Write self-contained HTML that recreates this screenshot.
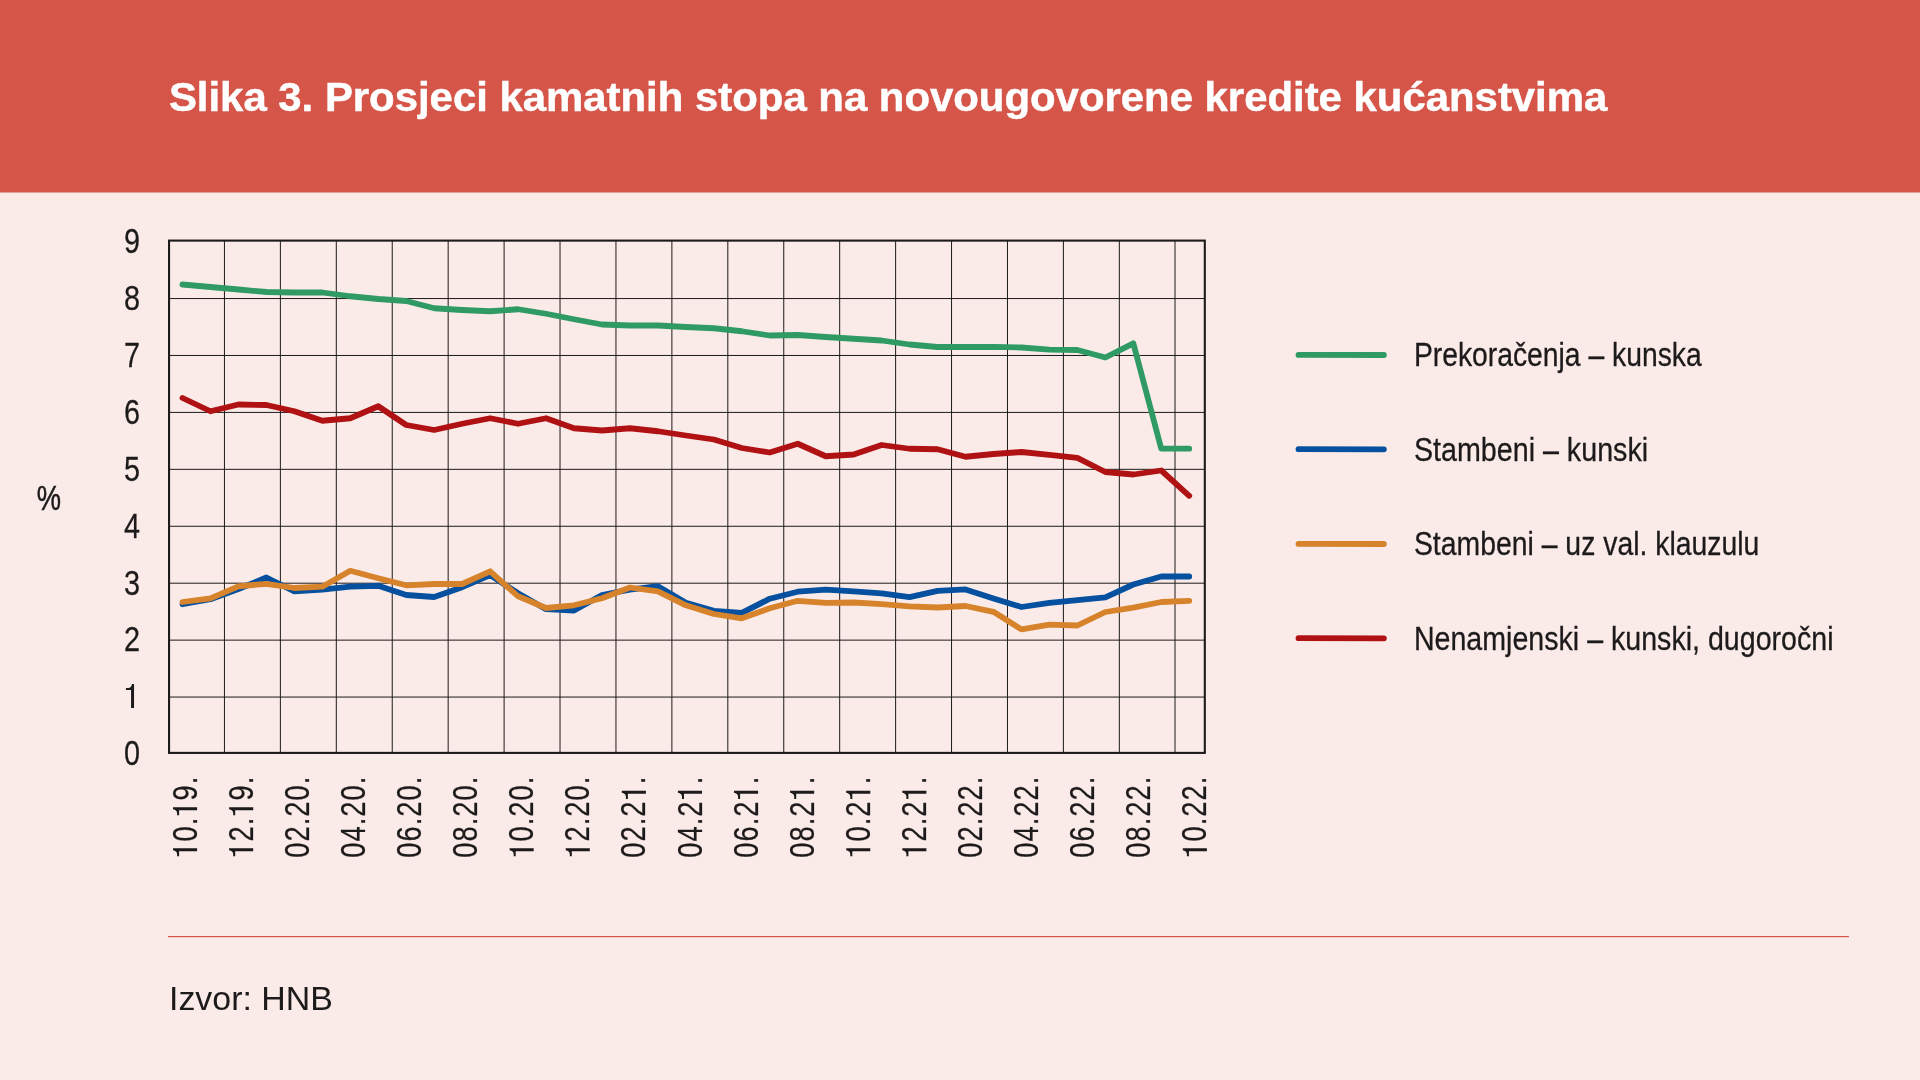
<!DOCTYPE html>
<html lang="hr"><head><meta charset="utf-8"><title>Slika 3. Prosjeci kamatnih stopa na novougovorene kredite kućanstvima</title>
<style>html,body{margin:0;padding:0;background:#faebe8;}body{width:1920px;height:1080px;overflow:hidden;font-family:"Liberation Sans",sans-serif;}svg{display:block;will-change:transform;}text{font-family:"Liberation Sans",sans-serif;}</style></head><body>
<svg width="1920" height="1080" viewBox="0 0 1920 1080">
<rect x="0" y="0" width="1920" height="1080" fill="#faebe8"/>
<rect x="0" y="0" width="1920" height="192.5" fill="#d55549"/>
 <text x="168.9" y="110.7" font-size="41" font-weight="bold" fill="#ffffff" stroke="#ffffff" stroke-width="0.5" textLength="1438.4" lengthAdjust="spacingAndGlyphs">Slika 3. Prosjeci kamatnih stopa na novougovorene kredite kućanstvima</text>
<g stroke="#1d1a1b" stroke-width="1" fill="none">
<line x1="224.45" y1="240.6" x2="224.45" y2="752.9"/>
<line x1="280.38" y1="240.6" x2="280.38" y2="752.9"/>
<line x1="336.31" y1="240.6" x2="336.31" y2="752.9"/>
<line x1="392.24" y1="240.6" x2="392.24" y2="752.9"/>
<line x1="448.17" y1="240.6" x2="448.17" y2="752.9"/>
<line x1="504.10" y1="240.6" x2="504.10" y2="752.9"/>
<line x1="560.03" y1="240.6" x2="560.03" y2="752.9"/>
<line x1="615.96" y1="240.6" x2="615.96" y2="752.9"/>
<line x1="671.89" y1="240.6" x2="671.89" y2="752.9"/>
<line x1="727.82" y1="240.6" x2="727.82" y2="752.9"/>
<line x1="783.75" y1="240.6" x2="783.75" y2="752.9"/>
<line x1="839.68" y1="240.6" x2="839.68" y2="752.9"/>
<line x1="895.61" y1="240.6" x2="895.61" y2="752.9"/>
<line x1="951.54" y1="240.6" x2="951.54" y2="752.9"/>
<line x1="1007.47" y1="240.6" x2="1007.47" y2="752.9"/>
<line x1="1063.40" y1="240.6" x2="1063.40" y2="752.9"/>
<line x1="1119.33" y1="240.6" x2="1119.33" y2="752.9"/>
<line x1="1175.00" y1="240.6" x2="1175.00" y2="752.9"/>
<line x1="169.05" y1="298.55" x2="1204.8" y2="298.55"/>
<line x1="169.05" y1="355.48" x2="1204.8" y2="355.48"/>
<line x1="169.05" y1="412.41" x2="1204.8" y2="412.41"/>
<line x1="169.05" y1="469.34" x2="1204.8" y2="469.34"/>
<line x1="169.05" y1="526.27" x2="1204.8" y2="526.27"/>
<line x1="169.05" y1="583.20" x2="1204.8" y2="583.20"/>
<line x1="169.05" y1="640.13" x2="1204.8" y2="640.13"/>
<line x1="169.05" y1="697.06" x2="1204.8" y2="697.06"/>
</g>
<rect x="169.05" y="240.6" width="1035.75" height="512.3" fill="none" stroke="#1d1a1b" stroke-width="2.1"/>
<polyline points="182.50,284.50 210.47,287.00 238.43,289.50 266.39,292.00 294.36,292.50 322.32,292.50 350.29,296.25 378.25,299.00 406.22,301.00 434.19,308.25 462.15,310.00 490.12,311.25 518.08,309.25 546.05,313.75 574.01,319.25 601.98,324.50 629.94,325.50 657.90,325.50 685.87,327.00 713.84,328.25 741.80,331.25 769.76,335.50 797.73,335.00 825.70,337.00 853.66,338.75 881.62,340.50 909.59,344.50 937.55,347.00 965.52,347.00 993.49,346.80 1021.45,347.50 1049.41,349.60 1077.38,350.00 1105.35,357.50 1133.31,343.30 1161.28,448.70 1189.24,448.70" fill="none" stroke="#2f9a63" stroke-width="5.8" stroke-linecap="round" stroke-linejoin="round"/>
<polyline points="182.50,604.20 210.47,599.20 238.43,589.00 266.39,577.50 294.36,591.30 322.32,589.70 350.29,586.70 378.25,585.80 406.22,595.00 434.19,597.00 462.15,587.20 490.12,575.00 518.08,593.30 546.05,609.20 574.01,610.50 601.98,595.00 629.94,589.70 657.90,586.20 685.87,602.80 713.84,610.80 741.80,612.90 769.76,598.70 797.73,591.70 825.70,589.70 853.66,591.30 881.62,593.30 909.59,597.20 937.55,590.80 965.52,589.40 993.49,598.50 1021.45,607.00 1049.41,602.80 1077.38,600.20 1105.35,597.30 1133.31,584.50 1161.28,576.50 1189.24,576.50" fill="none" stroke="#05509f" stroke-width="5.8" stroke-linecap="round" stroke-linejoin="round"/>
<polyline points="182.50,602.00 210.47,598.30 238.43,586.30 266.39,583.80 294.36,588.00 322.32,586.70 350.29,570.80 378.25,578.30 406.22,585.30 434.19,584.00 462.15,584.00 490.12,571.30 518.08,596.30 546.05,608.00 574.01,605.30 601.98,598.30 629.94,587.50 657.90,591.30 685.87,605.30 713.84,614.00 741.80,618.30 769.76,608.30 797.73,600.80 825.70,602.80 853.66,602.50 881.62,604.20 909.59,606.30 937.55,607.50 965.52,606.00 993.49,611.80 1021.45,629.40 1049.41,624.70 1077.38,625.50 1105.35,612.00 1133.31,607.70 1161.28,602.00 1189.24,600.80" fill="none" stroke="#d6832c" stroke-width="5.8" stroke-linecap="round" stroke-linejoin="round"/>
<polyline points="182.50,398.00 210.47,411.25 238.43,404.50 266.39,405.00 294.36,411.25 322.32,420.75 350.29,418.25 378.25,406.25 406.22,425.00 434.19,430.00 462.15,423.75 490.12,418.25 518.08,423.75 546.05,418.25 574.01,428.25 601.98,430.50 629.94,428.25 657.90,431.25 685.87,435.50 713.84,439.50 741.80,448.00 769.76,452.50 797.73,443.75 825.70,456.25 853.66,454.50 881.62,445.00 909.59,448.75 937.55,449.25 965.52,456.75 993.49,454.00 1021.45,452.00 1049.41,454.80 1077.38,457.80 1105.35,472.00 1133.31,474.50 1161.28,470.50 1189.24,495.80" fill="none" stroke="#b01113" stroke-width="5.8" stroke-linecap="round" stroke-linejoin="round"/>
<text transform="translate(140.0,764.99) scale(0.82,1)" font-size="35.2" text-anchor="end" fill="#1d1a1b" stroke="#1d1a1b" stroke-width="0.25">0</text>
<path transform="translate(124.2,708.0)" d="M6.85 0V-18H1.7V-20H4.1Q7.1 -20.4 7.8 -24.1H9.85V0Z" fill="#1d1a1b"/>
<text transform="translate(140.0,651.41) scale(0.82,1)" font-size="35.2" text-anchor="end" fill="#1d1a1b" stroke="#1d1a1b" stroke-width="0.25">2</text>
<text transform="translate(140.0,594.62) scale(0.82,1)" font-size="35.2" text-anchor="end" fill="#1d1a1b" stroke="#1d1a1b" stroke-width="0.25">3</text>
<text transform="translate(140.0,537.83) scale(0.82,1)" font-size="35.2" text-anchor="end" fill="#1d1a1b" stroke="#1d1a1b" stroke-width="0.25">4</text>
<text transform="translate(140.0,481.04) scale(0.82,1)" font-size="35.2" text-anchor="end" fill="#1d1a1b" stroke="#1d1a1b" stroke-width="0.25">5</text>
<text transform="translate(140.0,424.11) scale(0.82,1)" font-size="35.2" text-anchor="end" fill="#1d1a1b" stroke="#1d1a1b" stroke-width="0.25">6</text>
<text transform="translate(140.0,367.18) scale(0.82,1)" font-size="35.2" text-anchor="end" fill="#1d1a1b" stroke="#1d1a1b" stroke-width="0.25">7</text>
<text transform="translate(140.0,310.25) scale(0.82,1)" font-size="35.2" text-anchor="end" fill="#1d1a1b" stroke="#1d1a1b" stroke-width="0.25">8</text>
<text transform="translate(140.0,253.32) scale(0.82,1)" font-size="35.2" text-anchor="end" fill="#1d1a1b" stroke="#1d1a1b" stroke-width="0.25">9</text>
<text transform="translate(36.7,510.1) scale(0.769,1)" font-size="35.5" fill="#1d1a1b" stroke="#1d1a1b" stroke-width="0.5">%</text>
<path transform="translate(197.10,858.0) rotate(-90) translate(0,0)" d="M6.85 0V-18H1.7V-20H4.1Q7.1 -20.4 7.8 -24.1H9.85V0Z" fill="#1d1a1b"/>
<path transform="translate(197.10,858.0) rotate(-90) translate(41.0,0)" d="M6.85 0V-18H1.7V-20H4.1Q7.1 -20.4 7.8 -24.1H9.85V0Z" fill="#1d1a1b"/>
<text transform="translate(196.65,858.0) rotate(-90) scale(0.795,1)" x="20.88 41.13 72.45 92.70" font-size="34.4" fill="#1d1a1b" stroke="#1d1a1b" stroke-width="0.25">0.9.</text>
<path transform="translate(253.20,858.0) rotate(-90) translate(0,0)" d="M6.85 0V-18H1.7V-20H4.1Q7.1 -20.4 7.8 -24.1H9.85V0Z" fill="#1d1a1b"/>
<path transform="translate(253.20,858.0) rotate(-90) translate(41.0,0)" d="M6.85 0V-18H1.7V-20H4.1Q7.1 -20.4 7.8 -24.1H9.85V0Z" fill="#1d1a1b"/>
<text transform="translate(252.75,858.0) rotate(-90) scale(0.795,1)" x="20.88 41.13 72.45 92.70" font-size="34.4" fill="#1d1a1b" stroke="#1d1a1b" stroke-width="0.25">2.9.</text>
<text transform="translate(308.85,858.0) rotate(-90) scale(0.795,1)" x="0.25 20.88 41.13 51.82 72.45 92.70" font-size="34.4" fill="#1d1a1b" stroke="#1d1a1b" stroke-width="0.25">02.20.</text>
<text transform="translate(364.95,858.0) rotate(-90) scale(0.795,1)" x="0.25 20.88 41.13 51.82 72.45 92.70" font-size="34.4" fill="#1d1a1b" stroke="#1d1a1b" stroke-width="0.25">04.20.</text>
<text transform="translate(421.05,858.0) rotate(-90) scale(0.795,1)" x="0.25 20.88 41.13 51.82 72.45 92.70" font-size="34.4" fill="#1d1a1b" stroke="#1d1a1b" stroke-width="0.25">06.20.</text>
<text transform="translate(477.15,858.0) rotate(-90) scale(0.795,1)" x="0.25 20.88 41.13 51.82 72.45 92.70" font-size="34.4" fill="#1d1a1b" stroke="#1d1a1b" stroke-width="0.25">08.20.</text>
<path transform="translate(533.70,858.0) rotate(-90) translate(0,0)" d="M6.85 0V-18H1.7V-20H4.1Q7.1 -20.4 7.8 -24.1H9.85V0Z" fill="#1d1a1b"/>
<text transform="translate(533.25,858.0) rotate(-90) scale(0.795,1)" x="20.88 41.13 51.82 72.45 92.70" font-size="34.4" fill="#1d1a1b" stroke="#1d1a1b" stroke-width="0.25">0.20.</text>
<path transform="translate(589.80,858.0) rotate(-90) translate(0,0)" d="M6.85 0V-18H1.7V-20H4.1Q7.1 -20.4 7.8 -24.1H9.85V0Z" fill="#1d1a1b"/>
<text transform="translate(589.35,858.0) rotate(-90) scale(0.795,1)" x="20.88 41.13 51.82 72.45 92.70" font-size="34.4" fill="#1d1a1b" stroke="#1d1a1b" stroke-width="0.25">2.20.</text>
<path transform="translate(645.90,858.0) rotate(-90) translate(57.4,0)" d="M6.85 0V-18H1.7V-20H4.1Q7.1 -20.4 7.8 -24.1H9.85V0Z" fill="#1d1a1b"/>
<text transform="translate(645.45,858.0) rotate(-90) scale(0.795,1)" x="0.25 20.88 41.13 51.82 92.70" font-size="34.4" fill="#1d1a1b" stroke="#1d1a1b" stroke-width="0.25">02.2.</text>
<path transform="translate(702.00,858.0) rotate(-90) translate(57.4,0)" d="M6.85 0V-18H1.7V-20H4.1Q7.1 -20.4 7.8 -24.1H9.85V0Z" fill="#1d1a1b"/>
<text transform="translate(701.55,858.0) rotate(-90) scale(0.795,1)" x="0.25 20.88 41.13 51.82 92.70" font-size="34.4" fill="#1d1a1b" stroke="#1d1a1b" stroke-width="0.25">04.2.</text>
<path transform="translate(758.10,858.0) rotate(-90) translate(57.4,0)" d="M6.85 0V-18H1.7V-20H4.1Q7.1 -20.4 7.8 -24.1H9.85V0Z" fill="#1d1a1b"/>
<text transform="translate(757.65,858.0) rotate(-90) scale(0.795,1)" x="0.25 20.88 41.13 51.82 92.70" font-size="34.4" fill="#1d1a1b" stroke="#1d1a1b" stroke-width="0.25">06.2.</text>
<path transform="translate(814.20,858.0) rotate(-90) translate(57.4,0)" d="M6.85 0V-18H1.7V-20H4.1Q7.1 -20.4 7.8 -24.1H9.85V0Z" fill="#1d1a1b"/>
<text transform="translate(813.75,858.0) rotate(-90) scale(0.795,1)" x="0.25 20.88 41.13 51.82 92.70" font-size="34.4" fill="#1d1a1b" stroke="#1d1a1b" stroke-width="0.25">08.2.</text>
<path transform="translate(870.30,858.0) rotate(-90) translate(0,0)" d="M6.85 0V-18H1.7V-20H4.1Q7.1 -20.4 7.8 -24.1H9.85V0Z" fill="#1d1a1b"/>
<path transform="translate(870.30,858.0) rotate(-90) translate(57.4,0)" d="M6.85 0V-18H1.7V-20H4.1Q7.1 -20.4 7.8 -24.1H9.85V0Z" fill="#1d1a1b"/>
<text transform="translate(869.85,858.0) rotate(-90) scale(0.795,1)" x="20.88 41.13 51.82 92.70" font-size="34.4" fill="#1d1a1b" stroke="#1d1a1b" stroke-width="0.25">0.2.</text>
<path transform="translate(926.40,858.0) rotate(-90) translate(0,0)" d="M6.85 0V-18H1.7V-20H4.1Q7.1 -20.4 7.8 -24.1H9.85V0Z" fill="#1d1a1b"/>
<path transform="translate(926.40,858.0) rotate(-90) translate(57.4,0)" d="M6.85 0V-18H1.7V-20H4.1Q7.1 -20.4 7.8 -24.1H9.85V0Z" fill="#1d1a1b"/>
<text transform="translate(925.95,858.0) rotate(-90) scale(0.795,1)" x="20.88 41.13 51.82 92.70" font-size="34.4" fill="#1d1a1b" stroke="#1d1a1b" stroke-width="0.25">2.2.</text>
<text transform="translate(982.05,858.0) rotate(-90) scale(0.795,1)" x="0.25 20.88 41.13 51.82 72.45 92.70" font-size="34.4" fill="#1d1a1b" stroke="#1d1a1b" stroke-width="0.25">02.22.</text>
<text transform="translate(1038.15,858.0) rotate(-90) scale(0.795,1)" x="0.25 20.88 41.13 51.82 72.45 92.70" font-size="34.4" fill="#1d1a1b" stroke="#1d1a1b" stroke-width="0.25">04.22.</text>
<text transform="translate(1094.25,858.0) rotate(-90) scale(0.795,1)" x="0.25 20.88 41.13 51.82 72.45 92.70" font-size="34.4" fill="#1d1a1b" stroke="#1d1a1b" stroke-width="0.25">06.22.</text>
<text transform="translate(1150.35,858.0) rotate(-90) scale(0.795,1)" x="0.25 20.88 41.13 51.82 72.45 92.70" font-size="34.4" fill="#1d1a1b" stroke="#1d1a1b" stroke-width="0.25">08.22.</text>
<path transform="translate(1206.90,858.0) rotate(-90) translate(0,0)" d="M6.85 0V-18H1.7V-20H4.1Q7.1 -20.4 7.8 -24.1H9.85V0Z" fill="#1d1a1b"/>
<text transform="translate(1206.45,858.0) rotate(-90) scale(0.795,1)" x="20.88 41.13 51.82 72.45 92.70" font-size="34.4" fill="#1d1a1b" stroke="#1d1a1b" stroke-width="0.25">0.22.</text>
<line x1="1298.5" y1="354.9" x2="1383.9" y2="355" stroke="#2f9a63" stroke-width="5.8" stroke-linecap="round"/>
<text transform="translate(1413.9,365.80) scale(0.8325,1)" font-size="34" fill="#1d1a1b" stroke="#1d1a1b" stroke-width="0.3">Prekoračenja – kunska</text>
<line x1="1298.5" y1="449.2" x2="1383.9" y2="449.3" stroke="#05509f" stroke-width="5.8" stroke-linecap="round"/>
<text transform="translate(1413.9,460.53) scale(0.8435,1)" font-size="34" fill="#1d1a1b" stroke="#1d1a1b" stroke-width="0.3">Stambeni – kunski</text>
<line x1="1298.5" y1="543.9" x2="1383.9" y2="544" stroke="#d6832c" stroke-width="5.8" stroke-linecap="round"/>
<text transform="translate(1413.9,555.26) scale(0.835,1)" font-size="34" fill="#1d1a1b" stroke="#1d1a1b" stroke-width="0.3">Stambeni – uz val. klauzulu</text>
<line x1="1298.5" y1="638.1999999999999" x2="1383.9" y2="638.3" stroke="#b01113" stroke-width="5.8" stroke-linecap="round"/>
<text transform="translate(1413.9,649.99) scale(0.8415,1)" font-size="34" fill="#1d1a1b" stroke="#1d1a1b" stroke-width="0.3">Nenamjenski – kunski, dugoročni</text>
<rect x="168" y="936" width="1681" height="1.2" fill="#d55549"/>
<text x="169" y="1010" font-size="33.9" fill="#1d1a1b">Izvor: HNB</text>
</svg></body></html>
